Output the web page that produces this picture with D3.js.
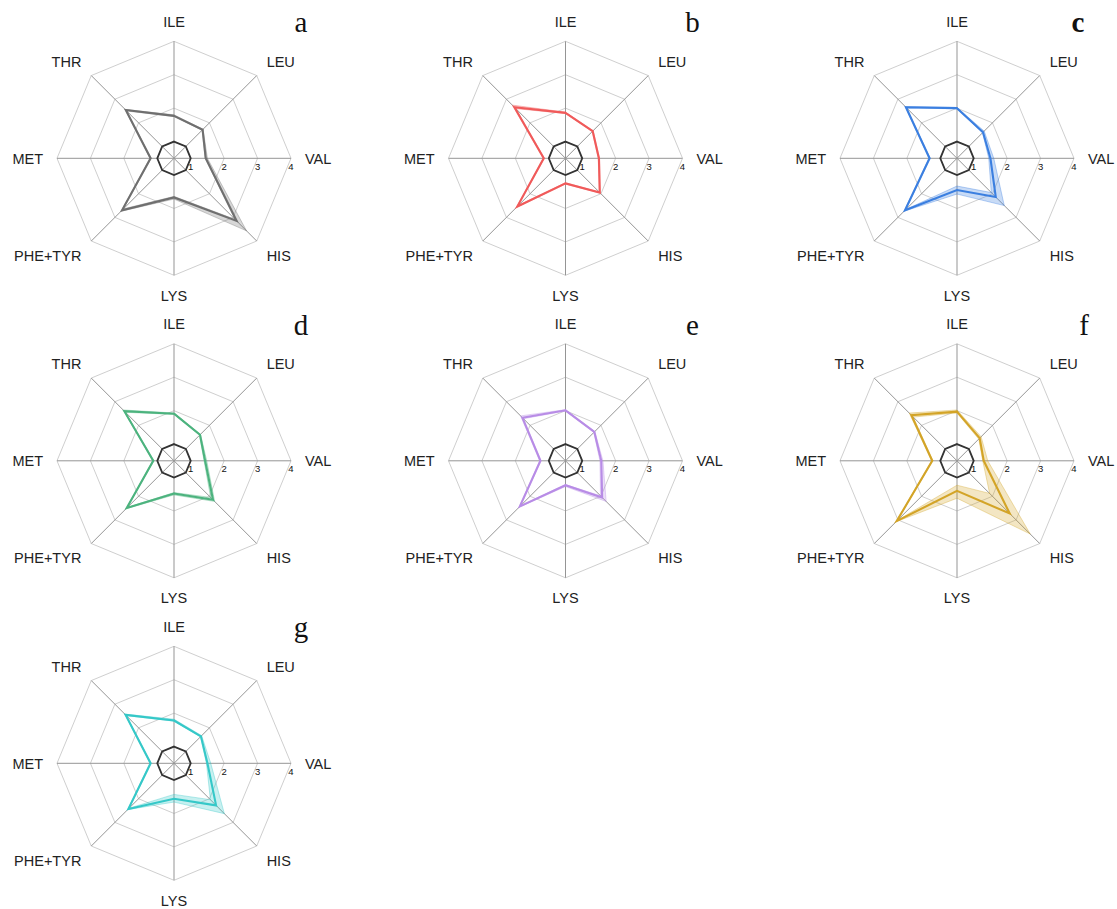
<!DOCTYPE html>
<html>
<head>
<meta charset="utf-8">
<script src="https://cdn.jsdelivr.net/npm/d3@7"></script>
<style>
  body { margin: 0; background: #fff; }
  svg { display: block; }
</style>
</head>
<body>
<svg id="chart" width="1117" height="909"></svg>
<script>
// Essential amino acid scores, one radar per sample (a–g)
const axes = ["ILE", "LEU", "VAL", "HIS", "LYS", "PHE+TYR", "MET", "THR"];
const ticks = [1, 2, 3, 4];
const reference = [1, 1, 1, 1, 1, 1, 1, 1];
const panelIds = ["a", "b", "c", "d", "e", "f", "g"];
const lineColors = ["#6f6f6f", "#f05a5a", "#3b7fe0", "#4cb37e", "#b88ce6", "#d3a427", "#35c8c8"];

// mean score and lower / upper bound per axis
const aMean = [1.77, 1.71, 1.45, 3.15, 1.67, 2.70, 1.20, 2.54];
const aLow  = [1.75, 1.69, 1.43, 3.08, 1.64, 2.64, 1.18, 2.50];
const aHigh = [1.80, 1.73, 1.50, 3.57, 1.72, 2.74, 1.22, 2.57];

const bMean = [1.86, 1.65, 1.50, 1.95, 1.25, 2.54, 1.15, 2.66];
const bLow  = [1.84, 1.63, 1.48, 1.93, 1.23, 2.50, 1.13, 2.60];
const bHigh = [1.88, 1.67, 1.52, 1.97, 1.27, 2.58, 1.17, 2.75];

const cMean = [2.00, 1.60, 1.50, 2.14, 1.45, 2.70, 1.32, 2.66];
const cLow  = [1.98, 1.58, 1.45, 1.95, 1.33, 2.66, 1.30, 2.63];
const cHigh = [2.02, 1.65, 1.60, 2.50, 1.57, 2.74, 1.34, 2.69];

const dMean = [1.91, 1.60, 1.43, 2.15, 1.48, 2.50, 1.12, 2.60];
const dLow  = [1.89, 1.58, 1.40, 2.05, 1.45, 2.47, 1.10, 2.55];
const dHigh = [1.93, 1.62, 1.48, 2.22, 1.52, 2.53, 1.14, 2.65];

const eMean = [2.01, 1.72, 1.57, 2.05, 1.23, 2.43, 1.25, 2.32];
const eLow  = [1.99, 1.70, 1.53, 1.98, 1.21, 2.40, 1.23, 2.28];
const eHigh = [2.03, 1.74, 1.62, 2.22, 1.27, 2.46, 1.27, 2.40];

const fMean = [1.97, 1.46, 1.30, 2.73, 1.40, 3.05, 1.24, 2.43];
const fLow  = [1.93, 1.42, 1.27, 1.88, 1.23, 3.01, 1.22, 2.35];
const fHigh = [2.02, 1.52, 1.42, 3.60, 1.62, 3.08, 1.26, 2.52];

const gMean = [1.78, 1.64, 1.50, 2.28, 1.56, 2.43, 1.20, 2.55];
const gLow  = [1.76, 1.62, 1.47, 2.04, 1.43, 2.40, 1.18, 2.52];
const gHigh = [1.82, 1.67, 1.60, 2.63, 1.66, 2.46, 1.22, 2.58];

const panels = [
  { id: "a", mean: aMean, low: aLow, high: aHigh },
  { id: "b", mean: bMean, low: bLow, high: bHigh },
  { id: "c", mean: cMean, low: cLow, high: cHigh },
  { id: "d", mean: dMean, low: dLow, high: dHigh },
  { id: "e", mean: eMean, low: eLow, high: eHigh },
  { id: "f", mean: fMean, low: fLow, high: fHigh },
  { id: "g", mean: gMean, low: gLow, high: gHigh }
].map((p, i) => ({ ...p, color: lineColors[i] }));

// layout
const R = 117;
const labelR = 131;
const colX = d3.scalePoint().domain([0, 1, 2]).range([174, 957]);
const rowY = d3.scalePoint().domain([0, 1, 2]).range([158.3, 763.3]);

const r = d3.scaleLinear().domain([0.5, 4]).range([0, R]);
const angle = d3.scalePoint().domain(d3.range(axes.length + 1)).range([0, 2 * Math.PI]);

const radial = d3.lineRadial()
  .angle((d, i) => angle(i))
  .radius(d => r(d))
  .curve(d3.curveLinearClosed);

const svg = d3.select("#chart");

panels.forEach((p, idx) => {
  const cx = colX(idx % 3), cy = rowY(Math.floor(idx / 3));
  const g = svg.append("g").attr("transform", `translate(${cx},${cy})`);

  // octagonal grid rings
  g.selectAll("path.ring").data(ticks).join("path")
    .attr("class", "ring")
    .attr("d", t => radial(axes.map(() => t)))
    .attr("fill", "none")
    .attr("stroke", "#cfcfcf")
    .attr("stroke-width", 1);

  // spokes
  g.selectAll("line.spoke").data(axes).join("line")
    .attr("class", "spoke")
    .attr("x1", 0).attr("y1", 0)
    .attr("x2", (d, i) => R * Math.sin(angle(i)))
    .attr("y2", (d, i) => -R * Math.cos(angle(i)))
    .attr("stroke", "#959595")
    .attr("stroke-width", 1);

  // tick values along the VAL axis
  const valAngle = angle(axes.indexOf("VAL"));
  g.selectAll("text.tick").data(ticks).join("text")
    .attr("class", "tick")
    .attr("x", t => r(t) * Math.sin(valAngle))
    .attr("y", t => -r(t) * Math.cos(valAngle) + 11.5)
    .attr("text-anchor", "middle")
    .attr("font-family", "Liberation Sans, Arial, sans-serif")
    .attr("font-size", 9.5)
    .attr("fill", "#111")
    .text(t => t);

  // reference score = 1
  g.append("path")
    .attr("d", radial(reference))
    .attr("fill", "none")
    .attr("stroke", "#333")
    .attr("stroke-width", 1.8);

  // band between lower and upper bound
  g.append("path")
    .attr("d", radial(p.high) + radial(p.low))
    .attr("fill", p.color)
    .attr("fill-opacity", 0.28)
    .attr("fill-rule", "evenodd")
    .attr("stroke", p.color)
    .attr("stroke-opacity", 0.45)
    .attr("stroke-width", 0.8);

  // mean profile
  g.append("path")
    .attr("d", radial(p.mean))
    .attr("fill", "none")
    .attr("stroke", p.color)
    .attr("stroke-width", 2.1)
    .attr("stroke-linejoin", "miter");

  // axis labels
  g.selectAll("text.axis").data(axes).join("text")
    .attr("class", "axis")
    .each(function (d, i) {
      const a = angle(i);
      const s = Math.sin(a), c = -Math.cos(a);
      const anchor = s > 0.1 ? "start" : s < -0.1 ? "end" : "middle";
      d3.select(this)
        .attr("x", labelR * s)
        .attr("y", labelR * c + 6 * c + 5.5)
        .attr("text-anchor", anchor);
    })
    .attr("font-family", "Liberation Sans, Arial, sans-serif")
    .attr("font-size", 14.5)
    .attr("fill", "#222")
    .text(d => d);

  // panel letter
  g.append("text")
    .attr("x", p.id === "c" ? 121 : 127)
    .attr("y", -126)
    .attr("text-anchor", "middle")
    .attr("font-family", "Liberation Serif, Times New Roman, serif")
    .attr("font-size", 29)
    .attr("font-weight", p.id === "c" ? "bold" : "normal")
    .attr("fill", "#111")
    .text(p.id);
});
</script>
</body>
</html>
